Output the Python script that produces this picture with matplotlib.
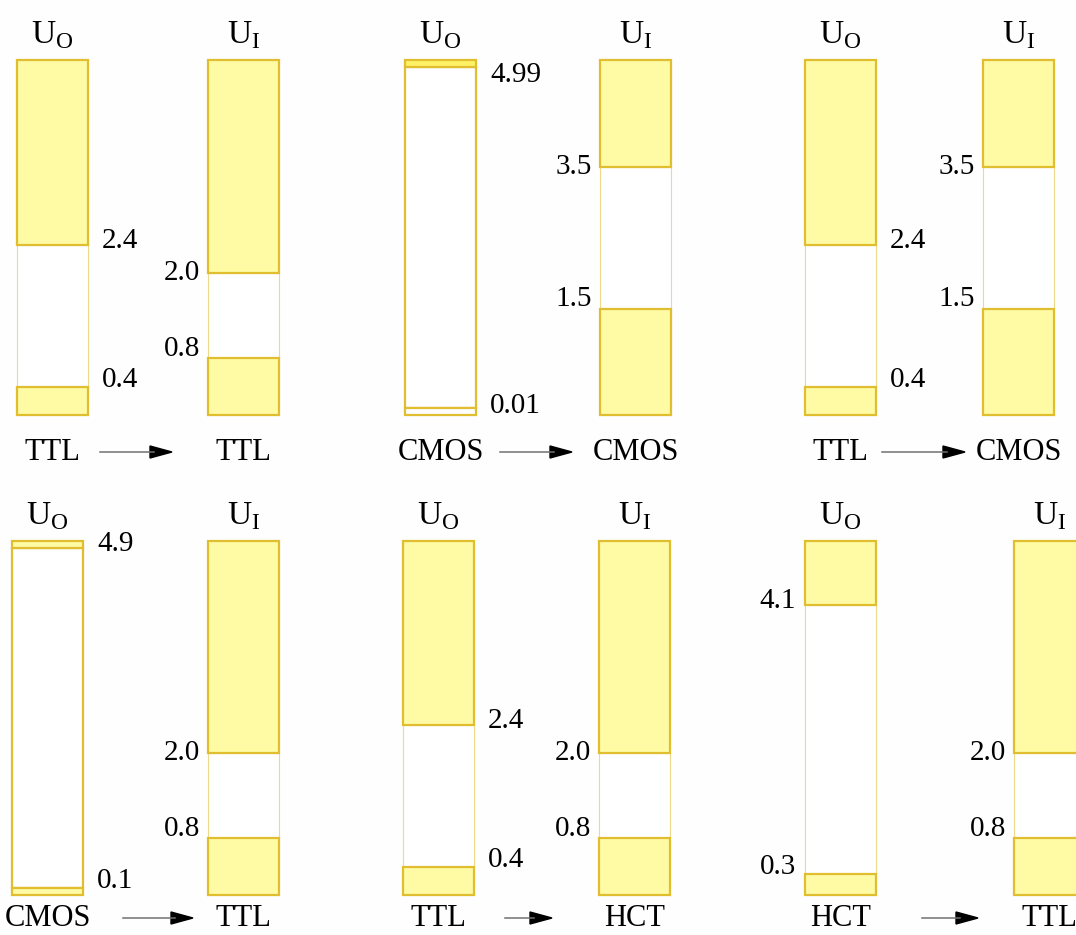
import matplotlib.pyplot as plt

plt.rcParams['font.family'] = ['Liberation Serif', 'DejaVu Serif']
plt.rcParams['mathtext.fontset'] = 'custom'
plt.rcParams['mathtext.rm'] = 'Liberation Serif'

# supply voltage (top of every bar)
VCC = 5.0

# one entry per driver -> load pair
src_family = ['TTL', 'CMOS', 'TTL', 'CMOS', 'TTL', 'HCT']
dst_family = ['TTL', 'CMOS', 'CMOS', 'TTL', 'HCT', 'TTL']
out_high = [2.4, 4.99, 2.4, 4.9, 2.4, 4.1]   # U_OH min
out_low = [0.4, 0.01, 0.4, 0.1, 0.4, 0.3]    # U_OL max
in_high = [2.0, 3.5, 3.5, 2.0, 2.0, 2.0]     # U_IH min
in_low = [0.8, 1.5, 1.5, 0.8, 0.8, 0.8]      # U_IL max
out_label_left = [False, False, False, False, False, True]

W, H = 1076, 935
BAR_W = 71
# layout in pixels: (output bar x, input bar x), bar top, bar bottom
bar_x = [(17, 208), (405, 600), (805, 983), (12, 208), (403, 599), (805, 1014)]
row_top = [60, 60, 60, 541, 541, 541]
row_bot = [415, 415, 415, 895, 895, 895]
arrow_x = [(100, 172), (500, 572), (882, 965), (123, 193), (505, 552), (922, 978)]
name_off = [37, 37, 37, 23, 23, 23]

FILL = '#FFFAA4'
EDGE = '#E0BE30'
EDGE_LIGHT = '#EED98A'
BRIGHT = '#FFF166'
MIN_BAND = 0.1  # smallest drawn band so tiny margins stay visible
NUM_FS = 21
NAME_FS = 22
HEAD_FS = 24

fig = plt.figure(figsize=(W / 100, H / 100), dpi=100)
fig.patch.set_facecolor('#FEFEFE')


def draw_bar(x, top, bot, lo, hi, top_color=FILL, low_fill=FILL, heavy_mid=False):
    ax = fig.add_axes([x / W, 1 - bot / H, BAR_W / W, (bot - top) / H])
    ax.set_xlim(0, 1)
    ax.set_ylim(0, VCC)
    ax.axis('off')
    # forbidden zone
    ax.bar(0.5, hi - lo, bottom=lo, width=1, color='white',
           edgecolor=EDGE if heavy_mid else EDGE_LIGHT,
           linewidth=1.6 if heavy_mid else 0.8, clip_on=False, zorder=1)
    # valid high / low zones
    ax.bar(0.5, VCC - hi, bottom=hi, width=1, color=top_color,
           edgecolor=EDGE, linewidth=1.6, clip_on=False, zorder=2)
    ax.bar(0.5, lo, bottom=0, width=1, color=low_fill,
           edgecolor=EDGE, linewidth=1.6, clip_on=False, zorder=2)
    return ax


def fmt(v):
    return f'{v:.1f}' if v >= 0.1 and round(v, 1) == v else f'{v:g}'


for i in range(6):
    xo, xi = bar_x[i]
    top, bot = row_top[i], row_bot[i]

    oh = min(out_high[i], VCC - MIN_BAND)
    ol = max(out_low[i], MIN_BAND)
    ax_o = draw_bar(xo, top, bot, ol, oh,
                    top_color=BRIGHT if out_high[i] > 4.95 else FILL,
                    low_fill='white' if out_low[i] < 0.05 else FILL,
                    heavy_mid=src_family[i] == 'CMOS')
    ax_i = draw_bar(xi, top, bot, in_low[i], in_high[i])

    for ax, txt, fam in ((ax_o, r'$\mathrm{U}_\mathrm{O}$', src_family[i]),
                         (ax_i, r'$\mathrm{U}_\mathrm{I}$', dst_family[i])):
        ax.annotate(txt, xy=(0.5, VCC), xytext=(0, 17), textcoords='offset pixels',
                    ha='center', va='baseline', fontsize=HEAD_FS)
        ax.annotate(fam, xy=(0.5, 0), xytext=(0, -name_off[i]), textcoords='offset pixels',
                    ha='center', va='center', fontsize=NAME_FS)

    side = out_label_left[i]
    for v, y, hs in ((out_high[i], oh, True), (out_low[i], ol, False)):
        if hs:
            dy = 4 if y == v else -8
        else:
            dy = 7 if y == v else 2
        ax_o.annotate(fmt(v), xy=(0 if side else 1, y), xytext=(-9 if side else 14, dy),
                      textcoords='offset pixels', ha='right' if side else 'left',
                      va='center', fontsize=NUM_FS)
    for v, hs in ((in_high[i], True), (in_low[i], False)):
        ax_i.annotate(fmt(v), xy=(0, v), xytext=(-8, 0 if hs else 9),
                      textcoords='offset pixels', ha='right', va='center', fontsize=NUM_FS)

    # driver -> load arrow
    ay = H - (bot + name_off[i])
    fig.add_artist(plt.Line2D([arrow_x[i][0] / W, (arrow_x[i][1] - 18) / W],
                              [ay / H, ay / H], color='#707070', lw=1.1))
    fig.add_artist(plt.Polygon([[(arrow_x[i][1] - 22) / W, (ay + 6) / H],
                                [arrow_x[i][1] / W, ay / H],
                                [(arrow_x[i][1] - 22) / W, (ay - 6) / H]],
                               closed=True, color='black'))

fig.savefig('out.png', dpi=100, facecolor=fig.get_facecolor())
